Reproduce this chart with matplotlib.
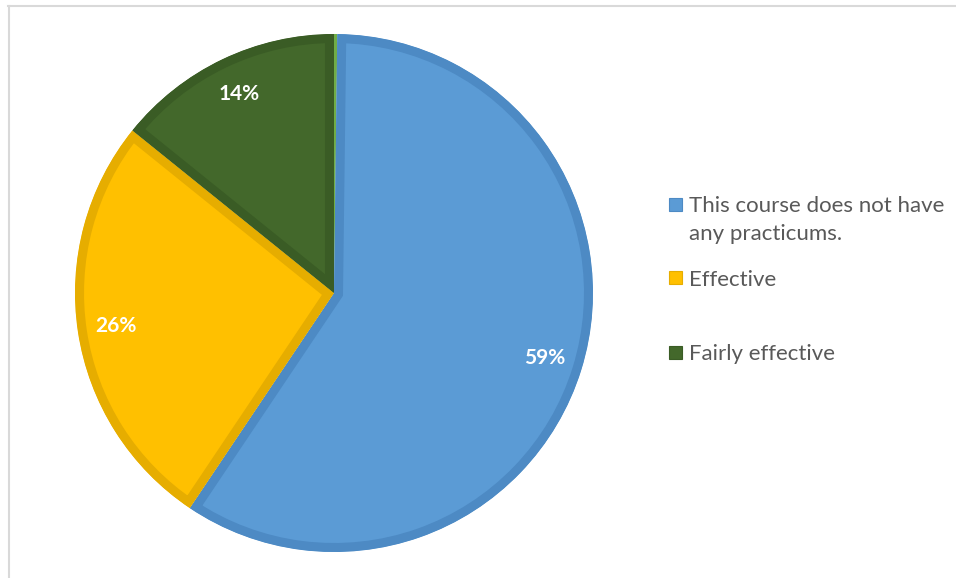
import matplotlib
matplotlib.use("Agg")
import matplotlib.pyplot as plt
from matplotlib.lines import Line2D
from matplotlib.patches import Rectangle

# survey answers, share of responses (%)
categories = ["", "This course does not have\nany practicums.", "Effective", "Fairly effective"]
shares = [0.2, 59.2, 26.4, 14.2]
face_colors = ["#70AD47", "#5B9BD5", "#FFC000", "#43682B"]
edge_colors = ["#70AD47", "#4D8AC4", "#E6AD00", "#3A5C25"]

plt.rcParams['font.family'] = ['Lato', 'DejaVu Sans']

W, H = 956, 578
fig = plt.figure(figsize=(W / 100, H / 100), dpi=100)

# thin frame along the top and left
fig.add_artist(Line2D([8 / W, 955 / W], [1 - 5.5 / H, 1 - 5.5 / H], color="#D9D9D9", lw=1.5))
fig.add_artist(Line2D([9 / W, 9 / W], [0, 1 - 5.5 / H], color="#D9D9D9", lw=1.5))

cx, cy, r = 334, 293, 259
ax = fig.add_axes([(cx - r) / W, (H - cy - r) / H, 2 * r / W, 2 * r / H])
wedges, texts, pcts = ax.pie(shares, colors=face_colors, startangle=90, counterclock=False,
                             autopct='%1.0f%%', pctdistance=0.85, radius=1,
                             wedgeprops=dict(linewidth=13, joinstyle="miter"),
                             textprops=dict(color="white", fontsize=15, fontweight="bold"))
for w, ec in zip(wedges, edge_colors):
    w.set_edgecolor(ec)
    w.set_clip_path(w)   # keep the stroke inside each slice
    w.set_clip_on(True)
pcts[0].set_visible(False)
ax.set_xlim(-1, 1)
ax.set_ylim(-1, 1)
ax.set_aspect("equal")
ax.axis("off")

# legend, drawn by hand so the wrapped first entry lines up with its marker
legend_y = [204, 278, 352]
for name, fc, ec, y in zip(categories[1:], face_colors[1:], edge_colors[1:], legend_y):
    fig.add_artist(Rectangle((669 / W, 1 - (y + 6.5) / H), 13 / W, 13 / H,
                             facecolor=fc, edgecolor=ec, lw=0.8))
    for i, line in enumerate(name.split("\n")):
        fig.text(689 / W, 1 - (y + 8 + 28 * i) / H, line, fontsize=16, color="#595959",
                 va="baseline", ha="left")

fig.savefig("out.png", dpi=100)
